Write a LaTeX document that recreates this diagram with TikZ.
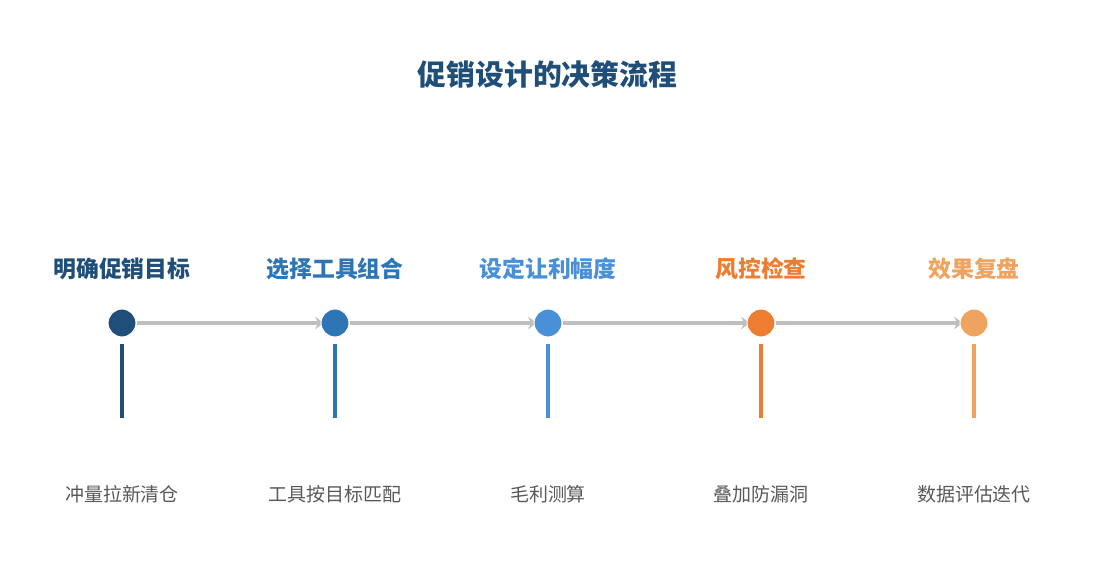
\documentclass[tikz,border=0pt]{standalone}
\usepackage{fontspec}
\usepackage{xcolor}
\usetikzlibrary{arrows.meta}
\newfontfamily\cjk{Noto Sans CJK SC}

\definecolor{stepA}{HTML}{1F4E79}
\definecolor{stepB}{HTML}{2E75B6}
\definecolor{stepC}{HTML}{4A90D9}
\definecolor{stepD}{HTML}{ED7D31}
\definecolor{stepE}{HTML}{F0A35E}
\definecolor{linkgray}{HTML}{BFBFBF}
\definecolor{notegray}{HTML}{595959}

\tikzset{
  dot/.style={circle, minimum size=0.56cm, inner sep=0pt, draw=white, line width=0.6pt},
  steptitle/.style={font=\cjk\fontsize{13}{15}\selectfont\bfseries},
  stepnote/.style={font=\cjk\fontsize{10.8}{13}\selectfont, text=notegray},
  link/.style={draw=linkgray, line width=2.1pt, -{Stealth[length=5pt,width=7pt]}},
  bar/.style={line width=1.8pt}
}

\begin{document}
\begin{tikzpicture}
  \useasboundingbox (0,0) rectangle (21.9,11.7);

  % Title
  \node[font=\cjk\fontsize{16.4}{19}\selectfont\bfseries, text=stepA] (title) at (10.95,10.22) {促销设计的决策流程};

  % Steps
  \foreach \i/\x/\col/\head/\note in {
      1/2.44/stepA/明确促销目标/冲量拉新清仓,
      2/6.70/stepB/选择工具组合/工具按目标匹配,
      3/10.96/stepC/设定让利幅度/毛利测算,
      4/15.22/stepD/风控检查/叠加防漏洞,
      5/19.48/stepE/效果复盘/数据评估迭代} {
    \node[steptitle, text=\col] (t\i) at (\x,6.32) {\head};
    \node[dot, fill=\col] (s\i) at (\x,5.24) {};
    \coordinate (b\i top) at (\x,4.82);
    \coordinate (b\i bot) at (\x,3.34);
    \draw[bar, draw=\col] (b\i top) -- (b\i bot);
    \node[stepnote] (d\i) at (\x,1.82) {\note};
  }

  % Links
  \foreach \i/\j in {1/2, 2/3, 3/4, 4/5}
    \draw[link, shorten >=-2pt] (s\i) -- (s\j);

  % Dots over the links
  \foreach \i/\col in {1/stepA, 2/stepB, 3/stepC, 4/stepD, 5/stepE}
    \node[dot, fill=\col] at (s\i) {};
\end{tikzpicture}
\end{document}
